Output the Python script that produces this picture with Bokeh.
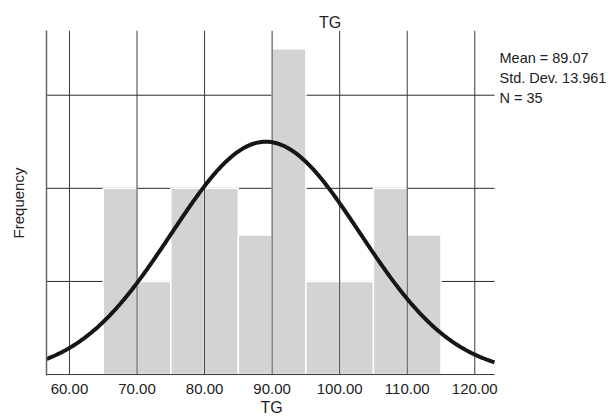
import numpy as np
from bokeh.plotting import figure
from bokeh.models import FixedTicker, Range1d, Label, NumeralTickFormatter, Title
from bokeh.embed import file_html
from bokeh.resources import INLINE

# ---- data ----
bin_left = [65, 70, 75, 80, 85, 90, 95, 100, 105, 110]
bin_width = 5
counts = [4, 2, 4, 4, 3, 7, 2, 2, 4, 3]
mean = 89.07
std = 13.961
n = 35
x_ticks = [60, 70, 80, 90, 100, 110, 120]
y_grid = [2, 4, 6]
stats_lines = ["Mean = 89.07", "Std. Dev. 13.961", "N = 35"]

FONT = "'Liberation Sans', Arial, sans-serif"
TXT = "#222222"

# ---- layout (screen pixels) ----
W, H = 613, 416
L, T, B = 46, 30, 375          # frame left / top / bottom
PLOT_R = 494                   # right end of the chart area inside the frame
PX_PER_X = 6.755               # pixels per data unit along x
x0 = 56.6
x1 = x0 + (W - L) / PX_PER_X   # frame extends to the right edge (room for stats)
x_plot_end = x0 + (PLOT_R - L) / PX_PER_X
y0, y_top = -0.02, 7.39

def dx(sx):
    return x0 + (sx - L) / PX_PER_X

def dy(sy):
    return y0 + (B - sy) * (y_top - y0) / (B - T)

p = figure(width=W, height=H, output_backend="svg", toolbar_location=None,
           x_range=Range1d(x0, x1), y_range=Range1d(y0, y_top),
           min_border_left=L, min_border_right=0, min_border_top=T,
           min_border_bottom=H - B)
p.outline_line_color = None
p.background_fill_color = "white"
p.border_fill_color = "white"
p.xgrid.visible = False
p.ygrid.visible = False

# horizontal grid lines (under the bars)
p.segment(x0=[x0] * len(y_grid), y0=y_grid, x1=[x_plot_end] * len(y_grid), y1=y_grid,
          line_color="#2a2a2a", line_width=1)

# bars
right = [b + bin_width for b in bin_left]
p.quad(left=bin_left, right=right, bottom=0, top=counts,
       fill_color="#d2d3d5", line_color="white", line_width=1.5)

# vertical grid lines drawn over bars
p.segment(x0=x_ticks, y0=[0] * len(x_ticks), x1=x_ticks, y1=[y_top] * len(x_ticks),
          line_color="#3a3a3a", line_width=1)

# bottom axis line (only under the chart area)
p.segment(x0=[x0], y0=[0], x1=[x_plot_end], y1=[0], line_color="#333333", line_width=1)

# normal curve
xs = np.linspace(x0, x_plot_end, 400)
ys = n * bin_width * np.exp(-0.5 * ((xs - mean) / std) ** 2) / (std * np.sqrt(2 * np.pi))
p.line(xs, ys, line_color="#161616", line_width=4)

# x axis (tick labels only)
p.xaxis.ticker = FixedTicker(ticks=x_ticks)
p.xaxis.formatter = NumeralTickFormatter(format="0.00")
p.xaxis.axis_line_color = None
p.xaxis.major_tick_out = 0
p.xaxis.major_tick_in = 0
p.xaxis.minor_tick_out = 0
p.xaxis.minor_tick_in = 0
p.xaxis.major_label_standoff = 8
p.xaxis.major_label_text_font = FONT
p.xaxis.major_label_text_font_size = "15px"
p.xaxis.major_label_text_color = TXT

# y axis (line + label only)
p.yaxis.ticker = FixedTicker(ticks=[])
p.yaxis.major_tick_out = 0
p.yaxis.major_tick_in = 0
p.yaxis.minor_tick_out = 0
p.yaxis.minor_tick_in = 0
p.yaxis.major_label_standoff = 0
p.yaxis.axis_line_color = "#666666"
p.yaxis.axis_line_width = 1.5
p.yaxis.axis_label = "Frequency"
p.yaxis.axis_label_text_font = FONT
p.yaxis.axis_label_text_font_size = "15px"
p.yaxis.axis_label_text_font_style = "normal"
p.yaxis.axis_label_text_color = TXT
p.yaxis.axis_label_standoff = 20

# chart title, centred over the whole frame (chart + statistics)
p.add_layout(Title(text="TG", align="center", text_font=FONT, text_font_size="16px",
                   text_font_style="normal", text_color=TXT, standoff=0), "above")

# x axis title, centred under the chart area
p.add_layout(Title(text="TG", align="left", offset=(L + PLOT_R) / 2 - L - 10,
                   text_font=FONT, text_font_size="16px", text_font_style="normal",
                   text_color=TXT, standoff=0), "below")

# statistics box
for i, s in enumerate(stats_lines):
    p.add_layout(Label(x=dx(499), y=dy(57 + 20 * i), text=s, text_align="left",
                       text_baseline="middle", text_font=FONT,
                       text_font_size="14.5px", text_color=TXT))

open("out.html", "w").write(file_html(p, INLINE))
